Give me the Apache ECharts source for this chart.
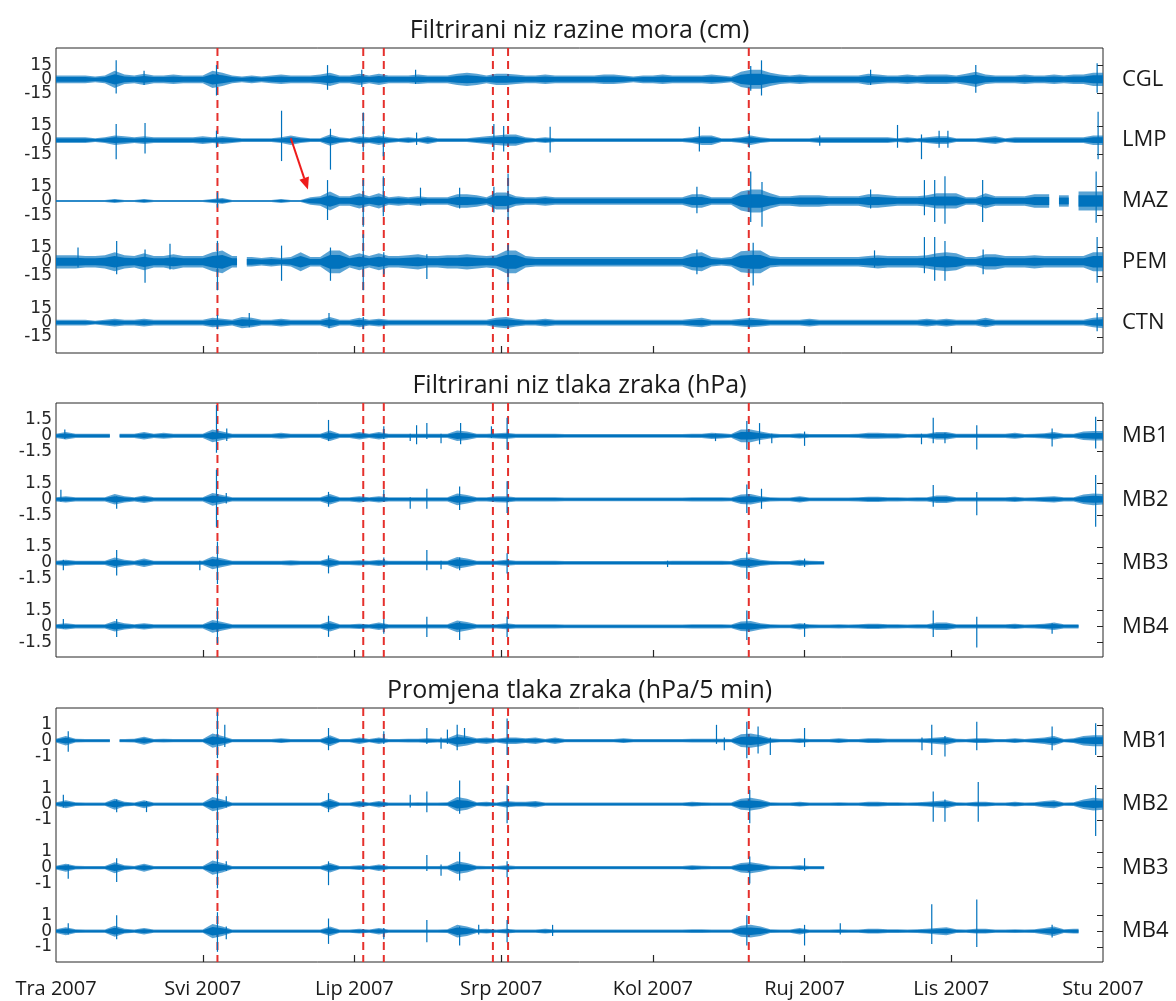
<!DOCTYPE html>
<html><head><meta charset="utf-8">
<script src="https://cdn.jsdelivr.net/npm/echarts@6/dist/echarts.min.js"></script>
<style>html,body{margin:0;padding:0;background:#fff}#c{width:1176px;height:1001px}</style>
</head><body><div id="c"></div><script>
const _ = null;
// ---------- DATA ----------
const monthDays = [0, 30, 61, 91, 122, 153, 183, 214];      // days since 1 Apr 2007
const monthLabels = ['Tra 2007','Svi 2007','Lip 2007','Srp 2007','Kol 2007','Ruj 2007','Lis 2007','Stu 2007'];
const eventDays = [33.0, 62.8, 67.0, 89.3, 92.4, 141.6];
const seaStations = ['CGL','LMP','MAZ','PEM','CTN'];
const baroStations = ['MB1','MB2','MB3','MB4'];
const seaTickValues = [15, 0, -15];
const pressTickValues = [1.5, 0, -1.5];
const dpTickValues = [1, 0, -1];
const sampleStepDays = 2;   // envelope samples every 2 days (day 0..214)

// sea level envelope half-amplitude (cm)
const cglAmp = [4,4,4,4,3,4,9,5,4,6, 4,4,5,4,4,4,9,7,4,3, 4,3,4,5,4,4,4,5,7,4, 4,6,4,6,4,4,4,5,4,4,
  4,6,7,6,4,6,6,5,4,4, 5,4,4,4,4,4,5,5,4,3, 4,4,5,4,4,4,4,5,4,3, 8,10,10,7,5,4,5,4,4,4,
  4,4,4,6,5,4,4,5,4,5, 5,5,4,6,8,5,4,4,4,5, 4,4,5,4,5,5,7,7];
const cglSpikes = [[12.3,20,15],[18,9,6],[32.8,15,17],[55.5,15,11],[62.5,10,8],[73.5,10,5],[142,14,12],[144.2,20,17],[166.5,10,6],[188,15,14],[212.8,17,14]];
const lmpAmp = [3,3,3,3,2,3,5,4,3,4, 3,3,3,3,3,4,3,4,3,2, 2,2,2,3,5,3,2,2,6,3, 2,4,3,5,3,2,3,2,4,2,
  2,2,2,3,4,5,6,6,3,2, 3,2,2,2,2,2,2,2,2,2, 2,2,2,2,2,3,5,5,2,2, 3,5,3,2,2,2,2,2,3,3,
  3,3,3,3,3,3,2,3,2,3, 4,4,2,2,2,3,4,2,3,3, 3,3,3,3,3,3,5,5];
const lmpSpikes = [[12.3,17,20],[18.2,18,14],[32.8,10,8],[46.1,31,22],[56.1,12,31],[62.8,29,12],[66.9,9,17],[73.7,8,5],[89.5,17,11],[91.5,15,12],[101,14,13],[131.5,14,12],[141.7,10,8],[156.1,5,6],[172,16,8],[176.9,6,20],[180.5,10,8],[182.3,10,8],[213,30,20]];
const mazAmp = [1,1,1,1,1,1,2,1,1,2, 1,1,1,1,1,1,2,3,1,1, 1,1,1,2,1,1,4,5,10,5, 5,8,5,8,4,5,4,5,4,4,
  4,7,7,6,4,9,9,5,4,4, 5,4,4,4,4,4,4,4,4,4, 4,4,4,4,4,7,7,4,4,4, 10,12,12,8,5,5,6,6,6,5,
  5,5,5,7,7,6,5,5,5,6, 8,8,8,4,4,8,5,5,5,5, 7,7,_,6,_,10,10,10];
const mazSpikes = [[33,9,7],[55.5,22,20],[62.8,22,27],[66.9,26,16],[74.5,14,5],[82.5,14,8],[89.5,15,12],[92.4,29,20],[131,15,13],[142,31,22],[144.3,20,27],[166.5,12,8],[177.5,22,15],[179.6,22,22],[181.7,26,24],[189.4,22,22],[212.6,31,23]];
const pemAmp = [7,7,7,6,6,7,10,7,6,9, 6,6,8,6,6,6,10,12,6,_, 5,4,5,4,5,10,5,5,12,12, 6,9,6,9,6,6,7,8,6,6,
  7,7,8,7,6,7,12,12,6,5, 5,5,5,5,5,5,5,5,5,5, 5,5,5,5,5,9,10,5,4,5, 11,12,12,6,5,5,5,5,5,5,
  5,5,5,6,7,6,6,6,6,7, 9,10,9,5,5,8,8,6,6,6, 7,6,6,6,6,6,10,10];
const pemSpikes = [[4.5,15,6],[12.4,22,13],[18.2,13,22],[23.3,19,8],[33,22,30],[46.1,17,20],[56.1,15,20],[62.8,29,30],[67,10,13],[75.8,8,18],[92.4,18,23],[131,13,13],[142.5,20,25],[167.3,12,6],[177.5,26,12],[179.6,26,20],[181.7,22,20],[189.5,13,13],[212.8,26,22]];
const ctnAmp = [3,3,3,3,2,3,4,3,3,4, 3,3,3,3,3,3,5,4,3,6, 5,3,3,4,3,3,3,3,6,3, 3,5,3,4,3,3,3,3,3,3,
  3,3,3,3,3,5,6,4,3,3, 4,3,3,3,3,3,3,3,3,3, 3,3,3,3,3,4,5,3,3,3, 4,5,4,3,3,3,3,4,3,3,
  3,3,3,3,3,3,3,3,3,4, 3,4,3,3,3,5,3,3,3,3, 3,3,3,3,3,3,5,6];
const ctnSpikes = [[33,8,7],[39.5,10,5],[55.8,10,6],[62.8,6,7],[141.7,5,5],[212.8,10,9]];

// filtered air pressure (hPa)
const pMb1Amp = [.2,.35,.2,.2,.2,.2,_,.2,.2,.35, .2,.28,.2,.2,.2,.2,.6,.4,.2,.2, .2,.2,.2,.28,.2,.2,.2,.2,.5,.2,
  .2,.35,.2,.35,.2,.2,.2,.2,.2,.2, .2,.5,.4,.2,.2,.25,.3,.2,.2,.2, .2,.2,.18,.18,.18,.18,.18,.18,.18,.18,
  .18,.18,.18,.18,.18,.2,.2,.3,.25,.18, .6,.6,.4,.25,.18,.18,.25,.18,.18,.18, .18,.18,.2,.28,.28,.25,.25,.18,.2,.2,
  .35,.35,.2,.2,.2,.2,.2,.2,.28,.18, .2,.25,.35,.2,.2,.4,.45,.45];
const pMb1Spikes = [[1.8,.6,.3],[32.8,2.9,1.6],[34.9,.7,.5],[55.7,1.5,.5],[67,.9,.3],[72.4,.2,.5],[73.7,1,.8],[75.8,1.2,.3],[78.7,.2,.7],[82.7,1.2,.8],[89,.9,.2],[92.2,1.7,1.3],[134.8,.2,.5],[141.2,1.4,1.3],[143.8,1.2,.8],[146.3,.2,.7],[153,.4,.95],[176.9,.2,.8],[179.3,1.7,.7],[181.7,.3,.7],[188.2,1,1.3],[203.6,.7,1],[212.5,1.8,1.2]];
const pMb2Amp = [.2,.3,.2,.2,.2,.2,.5,.3,.2,.35, .2,.2,.2,.2,.2,.2,.6,.4,.2,.2, .2,.2,.2,.2,.2,.2,.2,.2,.5,.2,
  .2,.3,.2,.3,.2,.2,.2,.2,.2,.2, .2,.55,.4,.2,.2,.28,.3,.2,.2,.2, .2,.2,.18,.18,.18,.18,.18,.18,.18,.18,
  .18,.18,.18,.18,.18,.2,.2,.2,.2,.18, .45,.5,.3,.2,.18,.18,.3,.18,.18,.18, .18,.18,.2,.25,.25,.2,.2,.18,.2,.2,
  .35,.35,.2,.2,.2,.2,.2,.2,.25,.18, .2,.25,.3,.2,.2,.45,.55,.5];
const pMb2Spikes = [[1,.9,.2],[12.4,.3,.9],[32.8,2.8,2.6],[34.8,.6,.4],[55.7,.7,.7],[67,.9,.2],[72.4,.2,.9],[75.8,1,.9],[82.5,1.2,1],[92.2,1.7,1.3],[141.2,1.4,1.3],[144.2,1,.9],[179.3,1.35,.7],[188.2,.7,1.5],[212.5,2.3,2.6]];
const pMb3Amp = [.2,.3,.2,.2,.2,.2,.5,.3,.2,.4, .2,.2,.2,.2,.2,.2,.6,.4,.2,.2, .2,.2,.2,.2,.25,.2,.2,.2,.45,.2,
  .2,.25,.2,.3,.2,.2,.2,.2,.2,.2, .2,.55,.4,.2,.2,.2,.28,.2,.2,.2, .2,.2,.18,.18,.18,.18,.18,.18,.18,.18,
  .18,.18,.18,.2,.2,.2,.2,.2,.2,.18, .45,.5,.3,.2,.18,.18,.3,.2,.18,_, _,_,_,_,_,_,_,_,_,_,
  _,_,_,_,_,_,_,_,_,_, _,_,_,_,_,_,_,_];
const pMb3Spikes = [[1.5,.3,.7],[12.4,1.2,1.2],[29.4,.2,.7],[33,2,2],[55.7,.7,1],[67,.5,.2],[75.8,1.2,.7],[78.7,.2,.6],[82.5,.5,.7],[92.2,.9,1],[125,.2,.4],[141.2,1,1.5],[153,.4,.4]];
const pMb4Amp = [.2,.3,.2,.2,.2,.2,.5,.3,.2,.3, .2,.2,.2,.2,.2,.2,.6,.4,.2,.2, .2,.2,.2,.2,.2,.2,.2,.2,.5,.2,
  .2,.25,.2,.35,.2,.2,.2,.2,.2,.2, .2,.55,.4,.2,.2,.2,.28,.2,.2,.2, .2,.2,.18,.18,.18,.18,.18,.18,.18,.18,
  .18,.18,.18,.18,.18,.2,.2,.2,.2,.18, .45,.5,.3,.2,.18,.18,.3,.2,.18,.18, .2,.18,.2,.25,.25,.2,.2,.18,.2,.2,
  .35,.35,.2,.2,.2,.2,.2,.2,.25,.18, .2,.25,.35,.2,.2,_,_,_];
const pMb4Spikes = [[1.5,.7,.2],[12.4,.7,1],[33,1.8,1.6],[55.7,1,1],[67,.7,.7],[75.8,.9,1],[82.5,.4,1.3],[92.2,.9,1],[141.2,1.5,1.3],[153,.3,1],[179.3,1.5,1],[188.2,.9,2],[203.6,.3,.7]];

// air pressure change (hPa / 5 min)
const dMb1Amp = [.12,.3,.12,.1,.1,.1,_,.1,.12,.25, .1,.12,.1,.1,.1,.1,.45,.3,.1,.1, .1,.1,.1,.15,.1,.1,.1,.1,.35,.1,
  .1,.2,.1,.2,.1,.1,.12,.12,.15,.12, .15,.4,.3,.15,.2,.12,.2,.2,.15,.2, .1,.2,.1,.1,.1,.1,.1,.1,.15,.1,
  .1,.1,.1,.1,.1,.12,.12,.12,.12,.1, .4,.45,.35,.15,.1,.1,.15,.1,.1,.1, .15,.1,.1,.15,.15,.12,.12,.12,.12,.15,
  .2,.25,.12,.1,.15,.15,.1,.1,.15,.1, .15,.2,.3,.1,.15,.3,.35,.35];
const dMb1Spikes = [[2.5,.6,.7],[33,1.8,1.1],[34.5,1,.4],[55.7,.8,.6],[67,.6,.2],[75.8,.8,.2],[78.7,.2,.5],[80,.7,.2],[82,1,.6],[83.5,.8,.2],[92.2,1.4,.9],[135,1,.2],[136.6,.2,.6],[141.2,1.2,1.1],[143.5,.9,.8],[146,.2,.9],[153,.8,.4],[177,.2,.6],[179,1,.9],[181.7,.3,1],[188.2,1.2,.6],[203.6,.9,.6],[212.5,1.1,.9]];
const dMb2Amp = [.12,.25,.12,.1,.1,.1,.35,.15,.1,.25, .1,.1,.1,.1,.1,.1,.45,.3,.1,.1, .1,.1,.1,.1,.1,.1,.1,.1,.35,.1,
  .1,.2,.1,.2,.1,.1,.1,.12,.1,.1, .12,.45,.35,.12,.15,.1,.2,.15,.15,.2, .1,.1,.1,.1,.1,.1,.1,.1,.1,.1,
  .1,.1,.1,.1,.1,.15,.12,.1,.1,.1, .35,.4,.3,.12,.1,.1,.15,.1,.1,.1, .12,.1,.1,.15,.15,.12,.12,.1,.12,.15,
  .2,.25,.12,.1,.15,.15,.1,.1,.15,.1, .12,.2,.25,.1,.12,.3,.4,.35];
const dMb2Spikes = [[1.5,.6,.2],[12.4,.3,.5],[18.5,.2,.5],[33,1.8,2.2],[34.8,.5,.2],[55.7,.7,.5],[72.4,.6,.2],[75.8,.8,.5],[82.5,1.5,.6],[92.2,1.2,1.2],[141.8,.9,1.2],[179.3,.8,1.1],[181.7,.3,1.1],[188.5,1.4,1.1],[212.5,1.2,2]];
const dMb3Amp = [.12,.25,.12,.1,.1,.1,.35,.15,.1,.25, .1,.1,.1,.1,.1,.1,.45,.3,.1,.1, .1,.1,.1,.1,.1,.1,.1,.1,.3,.1,
  .1,.15,.1,.2,.1,.1,.1,.1,.1,.1, .12,.4,.3,.12,.1,.1,.15,.1,.1,.1, .1,.1,.1,.1,.1,.1,.1,.1,.1,.1,
  .1,.1,.1,.1,.1,.15,.12,.1,.1,.1, .3,.35,.25,.12,.1,.1,.15,.1,.1,_, _,_,_,_,_,_,_,_,_,_,
  _,_,_,_,_,_,_,_,_,_, _,_,_,_,_,_,_,_];
const dMb3Spikes = [[2.5,.2,.7],[12.4,.6,.9],[33,1.1,1.3],[34.8,.4,.2],[55.7,.4,1.1],[75.8,.8,.2],[78.7,.2,.5],[82.5,1,.8],[92.2,.4,.6],[141.8,.7,1],[153,.6,.2]];
const dMb4Amp = [.12,.25,.12,.1,.1,.1,.35,.15,.1,.2, .1,.1,.1,.1,.1,.1,.45,.3,.1,.1, .1,.1,.1,.1,.1,.1,.1,.1,.3,.1,
  .1,.15,.1,.2,.1,.1,.1,.1,.1,.1, .12,.4,.3,.12,.15,.1,.15,.1,.1,.1, .15,.1,.1,.1,.1,.1,.1,.1,.1,.1,
  .1,.1,.1,.1,.1,.12,.12,.1,.1,.1, .35,.4,.3,.12,.1,.1,.2,.1,.1,.1, .12,.1,.1,.15,.15,.12,.12,.1,.12,.15,
  .2,.25,.12,.1,.15,.15,.1,.1,.12,.1, .12,.2,.3,.12,.15,_,_,_];
const dMb4Spikes = [[2.5,.5,.2],[12.4,1,.5],[33,1.2,1.3],[34.8,.3,.5],[55.7,.8,.8],[67,.2,.5],[75.8,.7,.7],[82.5,.3,.9],[86.4,.4,.2],[92.2,.7,.7],[101.5,.4,.3],[141.2,1,.9],[153,.4,.9],[160.3,.5,.2],[179,1.7,.8],[188.2,2,1],[203.6,.4,.4]];

// annotation arrow on MAZ (data coords of panel 1)
const arrowFrom = [48.0, 194];
const arrowTo = [51.5, 140];

// ---------- LAYOUT / STYLE ----------
const BLUE = '#0072BD', RED = '#E5302C', INK = '#262626';
const DAYS = 214;
const panels = [
  {title:'Filtrirani niz razine mora (cm)', top:48, height:305, min:-32, max:289, names:seaStations,
   offsets:[256,192,128,64,0], ticks:seaTickValues,
   traces:[[cglAmp,cglSpikes],[lmpAmp,lmpSpikes],[mazAmp,mazSpikes],[pemAmp,pemSpikes],[ctnAmp,ctnSpikes]]},
  {title:'Filtrirani niz tlaka zraka (hPa)', top:403, height:254, min:-2.9, max:21.1, names:baroStations,
   offsets:[18,12,6,0], ticks:pressTickValues,
   traces:[[pMb1Amp,pMb1Spikes],[pMb2Amp,pMb2Spikes],[pMb3Amp,pMb3Spikes],[pMb4Amp,pMb4Spikes]]},
  {title:'Promjena tlaka zraka (hPa/5 min)', top:708, height:254, min:-1.94, max:14.06, names:baroStations,
   offsets:[12,8,4,0], ticks:dpTickValues,
   traces:[[dMb1Amp,dMb1Spikes],[dMb2Amp,dMb2Spikes],[dMb3Amp,dMb3Spikes],[dMb4Amp,dMb4Spikes]]}
];
const GL = 56, GW = 1047;

function nearestIdx(list, v){ let b=0, bd=Infinity; list.forEach((x,i)=>{const d=Math.abs(x-v); if(d<bd){bd=d;b=i;}}); return b; }

const grid=[], xAxis=[], yAxis=[], series=[], title=[];
const labelFont = {fontFamily:'DejaVu Sans', fontSize:17, color:INK};
panels.forEach((P, p) => {
  title.push({text:P.title, left:GL+GW/2, textAlign:'center', top:P.top-30, padding:0,
    textStyle:{fontFamily:'Open Sans', fontWeight:'normal', fontSize:25, color:'#1a1a1a'}});
  grid.push({left:GL, top:P.top, width:GW, height:P.height, show:true, borderColor:INK, borderWidth:1, backgroundColor:'transparent'});
  xAxis.push({type:'value', gridIndex:p, min:0, max:DAYS, axisLine:{show:false, onZero:false}, splitLine:{show:false},
    axisTick:{show:true, inside:true, length:7, customValues:monthDays.slice(1,-1), lineStyle:{color:INK, width:1.2}},
    axisLabel:{show:p===2, customValues:monthDays, showMinLabel:true, showMaxLabel:true, margin:17,
      fontFamily:'Open Sans', fontSize:20, color:'#1a1a1a',
      formatter:v=>monthLabels[nearestIdx(monthDays,v)]}});
  // tick values/labels: +L and -L on one axis, 0 on another (so the library does not drop overlapping ones)
  const allV=[], pmV=[], pmL=[], zV=[];
  P.offsets.forEach(o=>P.ticks.forEach(t=>{ allV.push(o+t); if(t===0) zV.push(o); else {pmV.push(o+t); pmL.push(String(t));} }));
  const zeroLabel = String(P.ticks.find(t=>t===0));
  yAxis.push({type:'value', gridIndex:p, position:'left', min:P.min, max:P.max, axisLine:{show:false, onZero:false}, splitLine:{show:false},
    axisTick:{show:false},
    axisLabel:Object.assign({customValues:pmV, showMinLabel:true, showMaxLabel:true, margin:4,
      formatter:v=>pmL[nearestIdx(pmV,v)]}, labelFont)});
  yAxis.push({type:'value', gridIndex:p, position:'left', min:P.min, max:P.max, axisLine:{show:false, onZero:false}, splitLine:{show:false},
    axisTick:{show:false},
    axisLabel:Object.assign({customValues:zV, showMinLabel:true, showMaxLabel:true, margin:4,
      formatter:()=>zeroLabel}, labelFont)});
  yAxis.push({type:'value', gridIndex:p, position:'right', min:P.min, max:P.max, axisLine:{show:false, onZero:false}, splitLine:{show:false},
    axisTick:{show:true, inside:true, length:6, customValues:allV, lineStyle:{color:INK}},
    axisLabel:{customValues:P.offsets, showMinLabel:true, showMaxLabel:true, margin:19,
      fontFamily:'Open Sans', fontSize:22, color:'#1a1a1a',
      formatter:v=>P.names[nearestIdx(P.offsets,v)]}});
  // red dashed event lines
  series.push({type:'custom', xAxisIndex:p, yAxisIndex:3*p, silent:true, z:1, clip:false,
    data:eventDays.map(d=>[d,0]),
    renderItem:(params, api)=>{
      const a=api.coord([api.value(0), P.max]), b=api.coord([api.value(0), P.min]);
      return {type:'line', shape:{x1:a[0],y1:a[1],x2:b[0],y2:b[1]}, style:{stroke:RED, lineWidth:2, lineDash:[8,5]}};
    }});
  // traces: light outer envelope + solid core + spikes
  series.push({type:'custom', xAxisIndex:p, yAxisIndex:3*p, silent:true, z:3, clip:false,
    data:P.traces.map((t,i)=>[i,0]),
    renderItem:(params, api)=>{
      const k=params.dataIndex, amp=P.traces[k][0], spikes=P.traces[k][1], off=P.offsets[k];
      const children=[]; const segs=[]; let seg=[];
      amp.forEach((a,i)=>{ const d=i*sampleStepDays; if(a==null){ if(seg.length) segs.push(seg); seg=[]; } else seg.push([d,a]); });
      if(seg.length) segs.push(seg);
      segs.forEach(s=>{
        const pts=s.slice(); const f=pts[0], l=pts[pts.length-1];
        if(f[0]>0) pts.unshift([f[0]-sampleStepDays/2, f[1]]);
        if(l[0]<DAYS) pts.push([Math.min(DAYS,l[0]+sampleStepDays/2), l[1]]);
        [[1, 0.65], [0.6, 1]].forEach(([scale, op])=>{
          const up=pts.map(q=>api.coord([q[0], off+q[1]*scale]));
          const lo=pts.slice().reverse().map(q=>api.coord([q[0], off-q[1]*scale]));
          children.push({type:'polygon', shape:{points:up.concat(lo)}, style:{fill:BLUE, opacity:op}});
        });
      });
      spikes.forEach(s=>{
        const a=api.coord([s[0], off+s[1]]), b=api.coord([s[0], off-s[2]]);
        children.push({type:'line', shape:{x1:a[0],y1:a[1],x2:b[0],y2:b[1]}, style:{stroke:BLUE, lineWidth:1.2}});
      });
      return {type:'group', children};
    }});
});
// arrow annotation (panel 1)
series.push({type:'custom', xAxisIndex:0, yAxisIndex:0, silent:true, z:5, clip:false,
  data:[[arrowFrom[0], arrowFrom[1]]],
  renderItem:(params, api)=>{
    const a=api.coord(arrowFrom), b=api.coord(arrowTo);
    const dx=b[0]-a[0], dy=b[1]-a[1], L=Math.hypot(dx,dy), ux=dx/L, uy=dy/L;
    const hl=12, hw=5;
    const base=[b[0]-ux*hl, b[1]-uy*hl];
    return {type:'group', children:[
      {type:'line', shape:{x1:a[0],y1:a[1],x2:base[0],y2:base[1]}, style:{stroke:'#EE1C1C', lineWidth:2}},
      {type:'polygon', shape:{points:[b,[base[0]-uy*hw, base[1]+ux*hw],[base[0]+uy*hw, base[1]-ux*hw]]}, style:{fill:'#EE1C1C'}}
    ]};
  }});

const chart = echarts.init(document.getElementById('c'), null, {renderer:'canvas'});
chart.setOption({animation:false, backgroundColor:'#fff', title, grid, xAxis, yAxis, series});
</script></body></html>
